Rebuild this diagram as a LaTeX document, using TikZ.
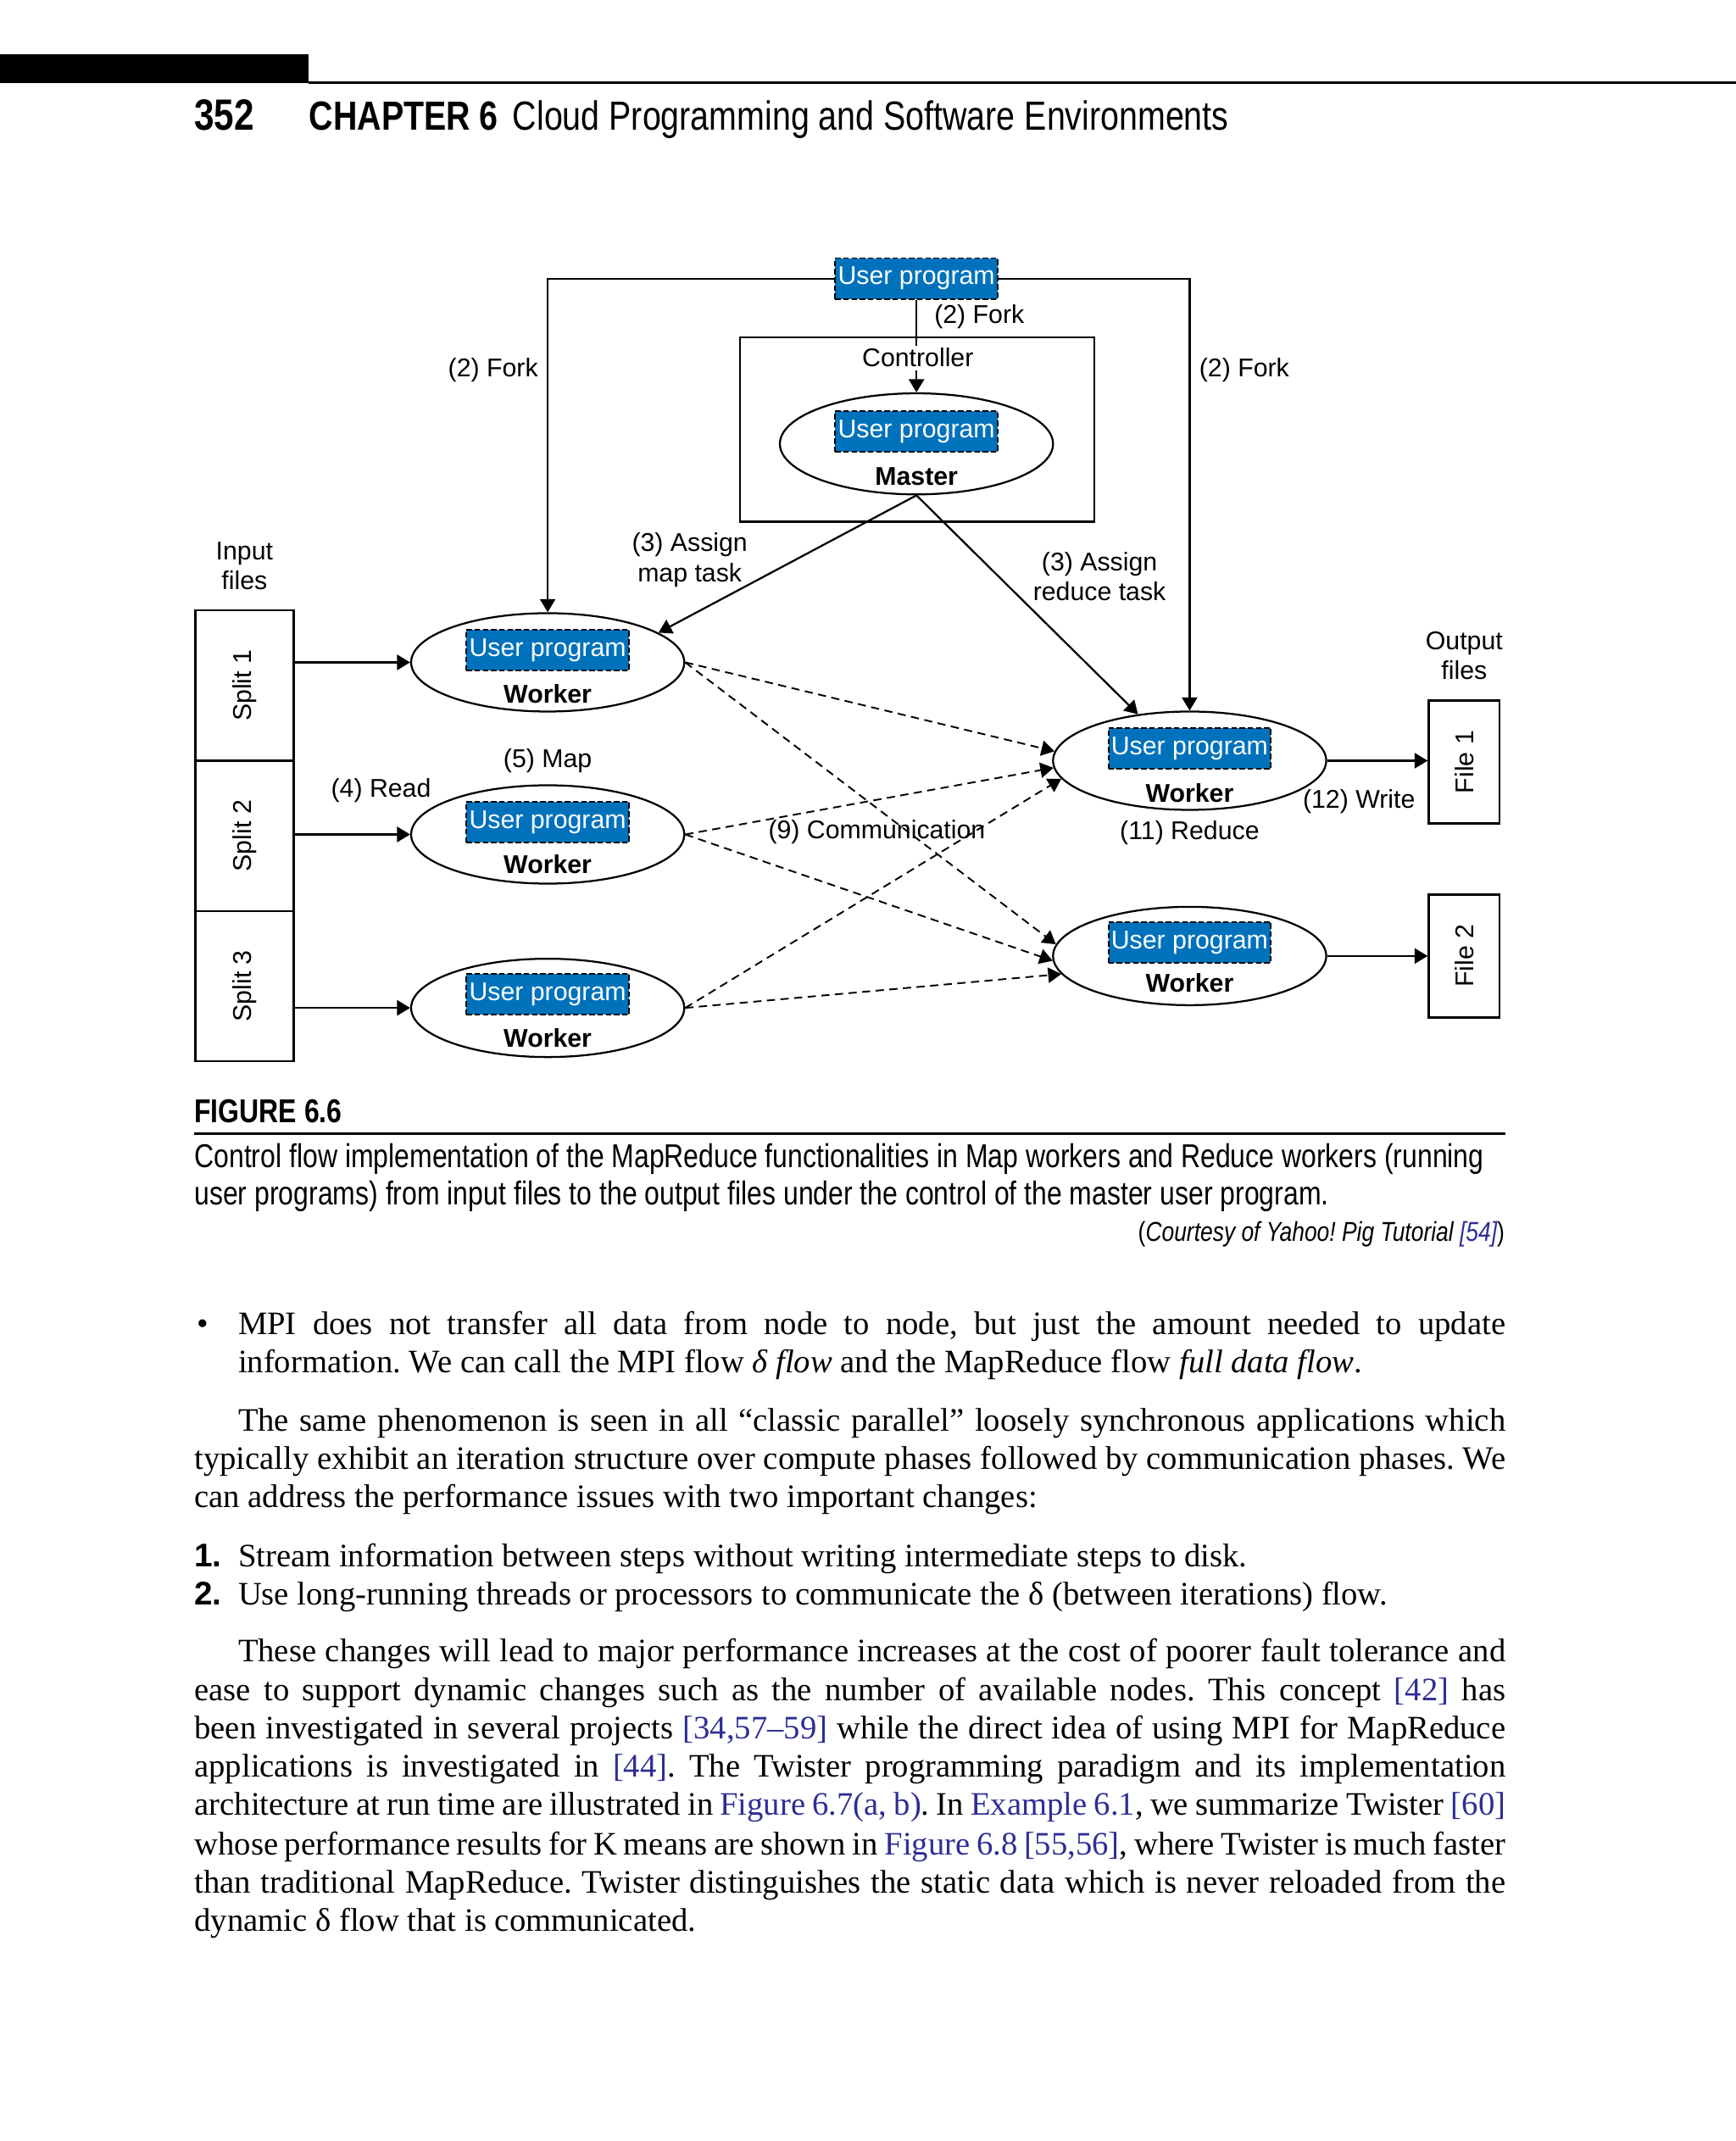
\documentclass[tikz,border=0pt]{standalone}
\usepackage{fontspec}
\setmainfont{Liberation Serif}
\setsansfont{Liberation Sans}
\newfontfamily\condfont[FakeStretch=0.82]{Liberation Sans}
\definecolor{progblue}{RGB}{0,114,188}
\definecolor{refblue}{RGB}{45,45,150}
\usetikzlibrary{
  arrows.meta,
  positioning,
  shapes,
}
\tikzset{
  >={Triangle[length=4.8pt,width=5.6pt]},
  diag/.style={font=\sffamily\fontsize{9.4}{11}\selectfont,align=center,inner sep=1pt},
  diagbold/.style={font=\sffamily\bfseries\fontsize{9.4}{11}\selectfont,inner sep=1pt},
  userprog/.style={draw,dash pattern=on 2pt off 1pt,line width=0.6pt,fill=progblue,text=white,minimum width=59.5pt,minimum height=15pt,inner sep=0pt,font=\sffamily\fontsize{9.4}{11}\selectfont},
  worker/.style={draw,ellipse,minimum width=100pt,minimum height=36pt,line width=0.7pt},
  splitbox/.style={draw,rectangle,minimum width=36pt,minimum height=55pt,line width=0.7pt,inner sep=0pt,font=\sffamily\fontsize{9.4}{11}\selectfont},
  filebox/.style={draw,rectangle,minimum width=26pt,minimum height=45pt,line width=0.7pt,inner sep=0pt,font=\sffamily\fontsize{9.4}{11}\selectfont},
  flow/.style={->,line width=0.7pt},
  comm/.style={->,dash pattern=on 3pt off 2pt,line width=0.6pt},
  headtext/.style={anchor=base west,inner sep=0pt,font=\condfont\fontsize{14.9}{18}\selectfont},
  captext/.style={anchor=base west,inner sep=0pt,font=\condfont\fontsize{12.1}{14}\selectfont},
  bodytext/.style={anchor=base west,inner sep=0pt,font=\fontsize{12}{14}\selectfont},
}
\newcommand{\refc}[1]{\textcolor{refblue}{#1}}
\frenchspacing

\begin{document}
\begin{tikzpicture}[x=0.5pt,y=-0.5pt,node distance=2pt]
  \useasboundingbox (0,0) rectangle (1271,1567.7);

  % running head
  \fill (0,40) rectangle (226,61);
  \draw[line width=1pt] (226,60.5) -- (1271,60.5);
  \node[headtext,font=\condfont\bfseries\fontsize{16}{18}\selectfont] (pgno) at (142,95) {352};
  \node[headtext] (chap) at (226,95) {\bfseries CHAPTER 6};
  \node[headtext] (title) at (375,95) {Cloud Programming and Software Environments};

  % controller
  \node[userprog] (up) at (671,204) {User program};
  \node[draw,rectangle,minimum width=129.5pt,minimum height=67.5pt,line width=0.7pt] (ctrl) at (671.5,314.5) {};
  \node[worker,minimum height=37pt] (m) at (671,325) {};
  \node[userprog] (mp) at (671,316) {User program};
  \node[diagbold] (mt) at (671,349) {Master};

  % input splits
  \node[splitbox] (s1) at (179,502) {\rotatebox{90}{Split 1}};
  \node[splitbox] (s2) at (179,612) {\rotatebox{90}{Split 2}};
  \node[splitbox] (s3) at (179,722) {\rotatebox{90}{Split 3}};
  \node[diag] (inp) [above=6pt of s1] {Input\\files};

  % map workers
  \node[worker] (w1) at (401,485) {};
  \node[userprog] (w1p) at (401,476) {User program};
  \node[diagbold] (w1t) at (401,508) {Worker};
  \node[worker] (w2) at (401,611) {};
  \node[userprog] (w2p) at (401,602) {User program};
  \node[diagbold] (w2t) at (401,633) {Worker};
  \node[worker] (w3) at (401,738) {};
  \node[userprog] (w3p) at (401,728) {User program};
  \node[diagbold] (w3t) at (401,760) {Worker};

  % reduce workers
  \node[worker] (r1) at (871,557) {};
  \node[userprog] (r1p) at (871,548) {User program};
  \node[diagbold] (r1t) at (871,581) {Worker};
  \node[worker] (r2) at (871,700) {};
  \node[userprog] (r2p) at (871,690) {User program};
  \node[diagbold] (r2t) at (871,720) {Worker};

  % output files
  \node[filebox] (f1) at (1072,558) {\rotatebox{90}{File 1}};
  \node[filebox] (f2) at (1072,700) {\rotatebox{90}{File 2}};
  \node[diag] (outp) [above=6pt of f1] {Output\\files};

  % fork
  \draw[flow] (up.west) -| (w1.north);
  \draw[flow] (up.east) -| (r1.north);
  \draw[flow] (up.south) -- (m.north);
  \node[diag,fill=white] (ctl) at (672,262) {Controller};
  \node[diag] (fk1) at (361,271) {(2) Fork};
  \node[diag] (fk2) at (911,271) {(2) Fork};
  \node[diag] (fk3) at (717,232) {(2) Fork};

  % assign
  \draw[flow] (m.south) -- (w1.15);
  \draw[flow] (m.south) -- (r1.138);
  \node[diag] (amap) at (505,410) {(3) Assign\\map task};
  \node[diag] (ared) at (805,422) {(3) Assign\\reduce task};

  % read
  \draw[flow] (s1.east |- w1.west) -- (w1.west);
  \draw[flow] (s2.east |- w2.west) -- (w2.west);
  \draw[flow] (s3.east |- w3.west) -- (w3.west);
  \node[diag] (rd) at (279,579) {(4) Read};
  \node[diag] (mp5) at (401,557) {(5) Map};

  % communication
  \draw[comm] (w1.east) -- (r1.176);
  \draw[comm] (w1.east) -- (r2.175);
  \draw[comm] (w2.east) -- (r1.183);
  \draw[comm] (w2.east) -- (r2.182);
  \draw[comm] (w3.east) -- (r1.188);
  \draw[comm] (w3.east) -- (r2.188);
  \node[diag] (cm) at (642,609) {(9) Communication};
  \node[diag] (rdc) at (871,610) {(11) Reduce};

  % write
  \draw[flow] (r1.east) -- (f1.west |- r1.east);
  \draw[flow] (r2.east) -- (f2.west |- r2.east);
  \node[diag] (wr) at (995,587) {(12) Write};

  % caption
  \node[captext] (fig) at (142,822) {\bfseries FIGURE 6.6};
  \draw[line width=1pt] (142,830) -- (1102,830);
  \node[captext] (cap1) at (142,855) {Control flow implementation of the MapReduce functionalities in Map workers and Reduce workers (running};
  \node[captext] (cap2) at (142,882) {user programs) from input files to the output files under the control of the master user program.};
  \node[captext,anchor=base east,font=\condfont\fontsize{10}{12}\selectfont] (cap3) at (1102,909) {(\textit{Courtesy of Yahoo! Pig Tutorial \refc{[54]}})};

  % body text
  \node[bodytext] (bul) at (144,977) {\textbullet};
  \node[bodytext] (b1) at (174,977) {\makebox[464pt][s]{MPI does not transfer all data from node to node, but just the amount needed to update}};
  \node[bodytext] (b2) at (174,1005) {information. We can call the MPI flow \textit{δ flow} and the MapReduce flow \textit{full data flow}.};
  \node[bodytext] (b3) at (174,1048) {\makebox[464pt][s]{The same phenomenon is seen in all “classic parallel” loosely synchronous applications which}};
  \node[bodytext] (b4) at (142,1076) {\makebox[480pt][s]{typically exhibit an iteration structure over compute phases followed by communication phases. We}};
  \node[bodytext] (b5) at (142,1104) {can address the performance issues with two important changes:};
  \node[bodytext,font=\sffamily\bfseries\fontsize{12}{14}\selectfont] (n1) at (142,1147) {1.};
  \node[bodytext] (b6) at (174,1147) {Stream information between steps without writing intermediate steps to disk.};
  \node[bodytext,font=\sffamily\bfseries\fontsize{12}{14}\selectfont] (n2) at (142,1175) {2.};
  \node[bodytext] (b7) at (174,1175) {Use long-running threads or processors to communicate the δ (between iterations) flow.};
  \node[bodytext] (b8) at (174,1217) {\makebox[464pt][s]{These changes will lead to major performance increases at the cost of poorer fault tolerance and}};
  \node[bodytext] (b9) at (142,1245) {\makebox[480pt][s]{ease to support dynamic changes such as the number of available nodes. This concept \refc{[42]} has}};
  \node[bodytext] (b10) at (142,1273) {\makebox[480pt][s]{been investigated in several projects \refc{[34,57–59]} while the direct idea of using MPI for MapReduce}};
  \node[bodytext] (b11) at (142,1301) {\makebox[480pt][s]{applications is investigated in \refc{[44]}. The Twister programming paradigm and its implementation}};
  \node[bodytext] (b12) at (142,1329) {\makebox[480pt][s]{architecture at run time are illustrated in \refc{Figure 6.7(a, b)}. In \refc{Example 6.1}, we summarize Twister \refc{[60]}}};
  \node[bodytext] (b13) at (142,1358) {\makebox[480pt][s]{whose performance results for K means are shown in \refc{Figure 6.8 [55,56]}, where Twister is much faster}};
  \node[bodytext] (b14) at (142,1386) {\makebox[480pt][s]{than traditional MapReduce. Twister distinguishes the static data which is never reloaded from the}};
  \node[bodytext] (b15) at (142,1414) {dynamic δ flow that is communicated.};
\end{tikzpicture}
\end{document}
